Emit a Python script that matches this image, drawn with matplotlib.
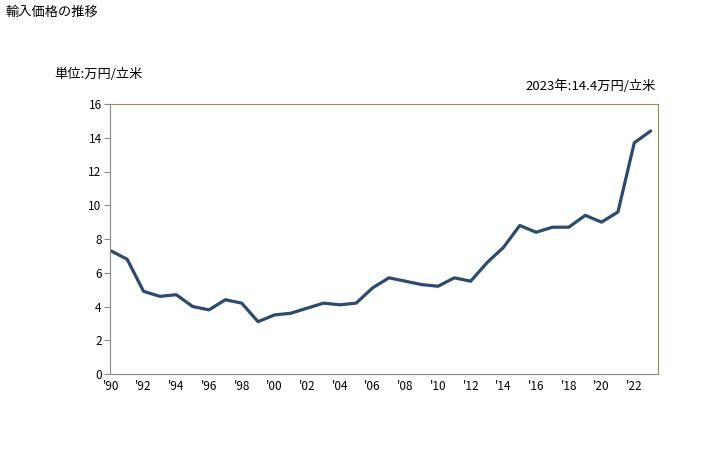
import matplotlib
matplotlib.use("Agg")
import matplotlib.pyplot as plt

plt.rcParams["font.family"] = ["Noto Sans CJK JP", "DejaVu Sans"]

years = list(range(1990, 2024))
prices = [7.3, 6.8, 4.9, 4.6, 4.7, 4.0, 3.8, 4.4, 4.2, 3.1,
          3.5, 3.6, 3.9, 4.2, 4.1, 4.2, 5.1, 5.7, 5.5, 5.3,
          5.2, 5.7, 5.5, 6.6, 7.5, 8.8, 8.4, 8.7, 8.7, 9.4,
          9.0, 9.6, 13.7, 14.4]
xtick_years = list(range(1990, 2024, 2))
xtick_labels = [f"'{y % 100:02d}" for y in xtick_years]

fig = plt.figure(figsize=(7.28, 4.5), dpi=100)
ax = fig.add_axes([110 / 728, 1 - 374 / 450, 548 / 728, 270 / 450])

ax.plot(years, prices, color="#2a4a73", linewidth=2.3, solid_capstyle="round")

ax.set_xlim(1989.95, 2023.45)
ax.set_ylim(0, 16)
ax.set_yticks(range(0, 17, 2))
ax.set_xticks(xtick_years)
ax.set_xticklabels(xtick_labels)
ax.tick_params(axis="y", direction="out", length=4, color="#888888", labelsize=8.5, pad=2)
ax.tick_params(axis="x", length=0, labelsize=8.5, pad=4)

for side in ("left", "bottom"):
    ax.spines[side].set_color("#888888")
for side in ("top", "right"):
    ax.spines[side].set_color("#9a8a4a")

fig.text(6 / 728, 1 - 12 / 450, "輸入価格の推移", fontsize=9.5, va="center", ha="left")
fig.text(54 / 728, 1 - 74 / 450, "単位:万円/立米", fontsize=9.5, va="center", ha="left")
fig.text(656 / 728, 1 - 86 / 450, "2023年:14.4万円/立米", fontsize=9.5, va="center", ha="right")

fig.savefig("out.png", dpi=100)
